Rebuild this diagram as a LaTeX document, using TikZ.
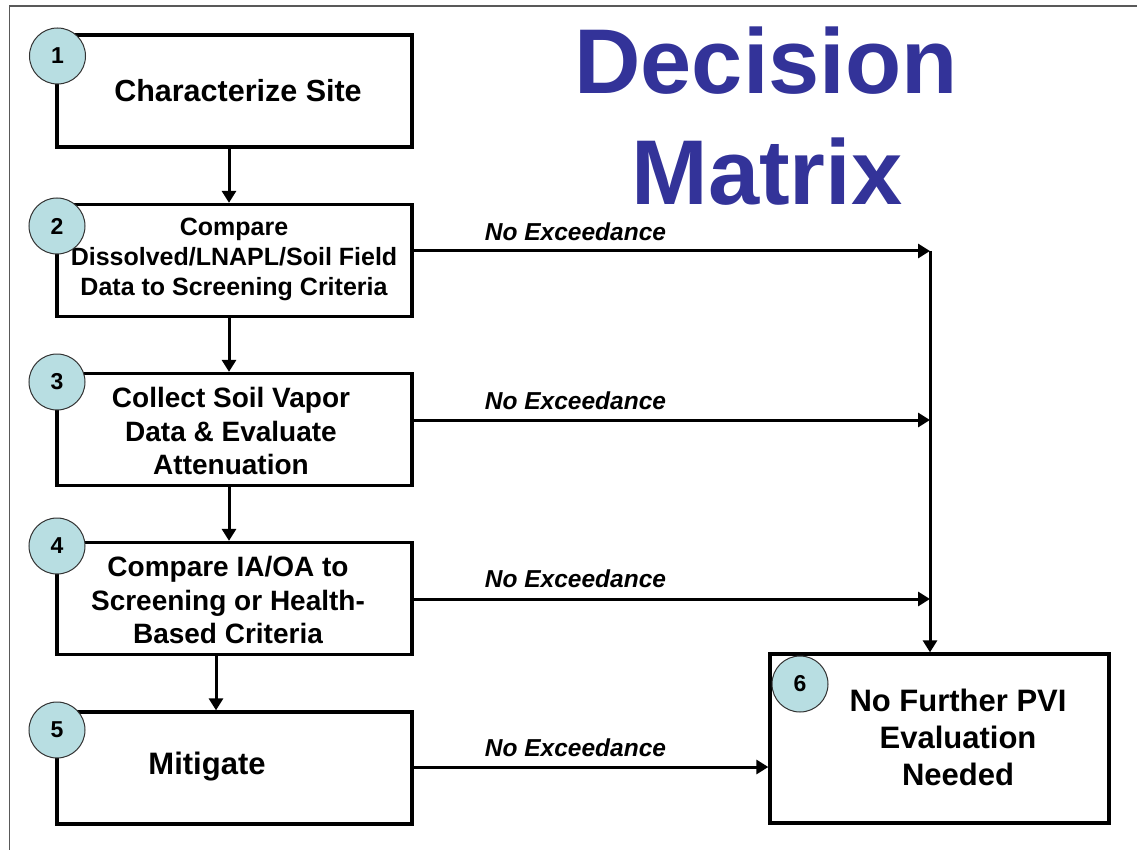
\documentclass[tikz,border=0pt]{standalone}
\usepackage{fontspec}
\setmainfont{Liberation Sans}
\usetikzlibrary{arrows.meta}
\definecolor{titleblue}{RGB}{51,51,153}
\definecolor{circfill}{RGB}{184,222,226}
\begin{document}
\begin{tikzpicture}[x=1pt,y=-1pt,
  box/.style={draw=black, line width=3.3pt, minimum width=355pt, minimum height=112pt, inner sep=0pt},
  badge/.style={circle, draw=black!80, line width=1pt, fill=circfill, minimum size=56pt, inner sep=0pt, font=\fontsize{23}{26}\selectfont\bfseries},
  txt/.style={align=center, inner sep=0pt, font=\fontsize{28}{33.5}\selectfont\bfseries},
  bigtxt/.style={align=center, inner sep=0pt, font=\fontsize{31}{37}\selectfont\bfseries},
  smalltxt/.style={align=center, inner sep=0pt, font=\fontsize{25}{30}\selectfont\bfseries},
  lbl/.style={inner sep=0pt, font=\fontsize{24.5}{28}\selectfont\bfseries\itshape},
  titletxt/.style={inner sep=0pt, text=titleblue, font=\fontsize{92}{92}\selectfont\bfseries},
  flow/.style={line width=3pt, -{Triangle[length=12pt,width=14pt]}},
]
\useasboundingbox (0,0) rectangle (1137,850);
\fill[white] (0,0) rectangle (1137,850);
\draw[black!65, line width=1.3pt] (9.5,850) -- (9.5,6) -- (1137,6);

% title
\node[titletxt] (title1) at (766,61) {Decision};
\node[titletxt] (title2) at (767,172) {Matrix};

% boxes
\node[box] (box1) at (234.5,91) {};
\node[box] (box2) at (234.5,260.5) {};
\node[box] (box3) at (234.5,429.5) {};
\node[box] (box4) at (234.5,598.5) {};
\node[box] (box5) at (234.5,768) {};
\node[box, minimum width=339pt, minimum height=169pt] (box6) at (939.5,738.5) {};

% box texts
\node[txt, font=\fontsize{30.5}{36}\selectfont\bfseries] (t1) at (238,91) {Characterize Site};
\node[smalltxt] (t2) at (234,259) {Compare\\Dissolved/LNAPL/Soil Field\\Data to Screening Criteria};
\node[txt] (t3) at (231,431) {Collect Soil Vapor\\Data \& Evaluate\\Attenuation};
\node[txt] (t4) at (228,600) {Compare IA/OA to\\Screening or Health-\\Based Criteria};
\node[bigtxt] (t5) at (207,767) {Mitigate};
\node[bigtxt] (t6) at (958,737) {No Further PVI\\Evaluation\\Needed};

% badges
\node[badge] (c1) at (57.5,56) {1};
\node[badge] (c2) at (57,226) {2};
\node[badge] (c3) at (57,382) {3};
\node[badge] (c4) at (57,546) {4};
\node[badge] (c5) at (57,730) {5};
\node[badge] (c6) at (800,684) {6};

% vertical flow arrows
\draw[flow] ([xshift=-5.5pt]box1.south) -- ([xshift=-5.5pt]box2.north);
\draw[flow] ([xshift=-5.5pt]box2.south) -- ([xshift=-5.5pt]box3.north);
\draw[flow] ([xshift=-5.5pt]box3.south) -- ([xshift=-5.5pt]box4.north);
\draw[flow] ([xshift=-18.5pt]box4.south) -- ([xshift=-18.5pt]box5.north);

% junction points on the collector line
\coordinate (j2) at (930,251);
\coordinate (j3) at (930,420);
\coordinate (j4) at (930,599);

\draw[flow] (box2.east |- j2) -- (j2);
\draw[flow] (box3.east |- j3) -- (j3);
\draw[flow] (box4.east |- j4) -- (j4);
\draw[flow] (j2) -- (j2 |- box6.north);
\draw[flow] (box5.east |- 0,767) -- (box6.west |- 0,767);

% labels
\node[lbl] (l2) at (575.5,232) {No Exceedance};
\node[lbl] (l3) at (575.5,401) {No Exceedance};
\node[lbl] (l4) at (575.5,579) {No Exceedance};
\node[lbl] (l5) at (575.5,748) {No Exceedance};
\end{tikzpicture}
\end{document}
